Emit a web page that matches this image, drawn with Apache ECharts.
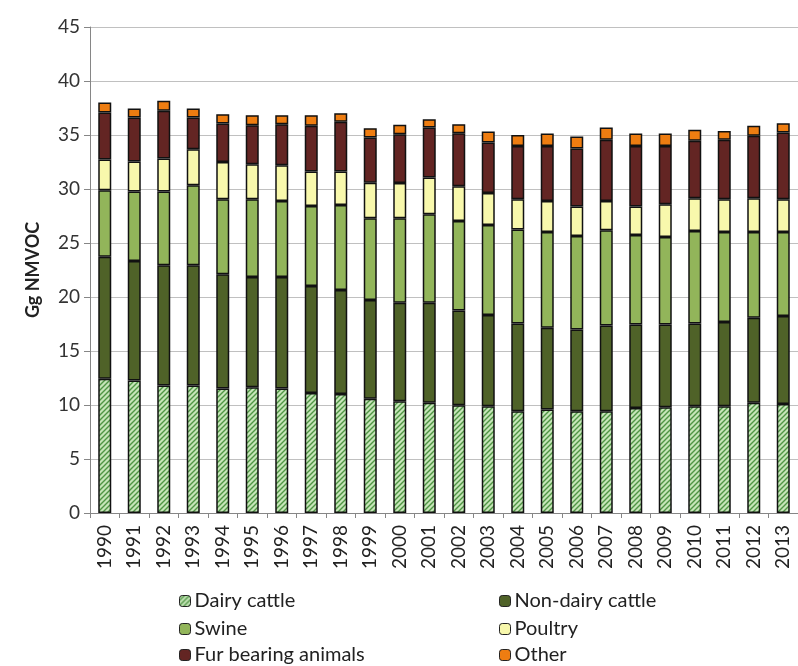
<!DOCTYPE html>
<html>
<head>
<meta charset="utf-8">
<script src="https://cdn.jsdelivr.net/npm/echarts@6/dist/echarts.min.js"></script>
<style>html,body{margin:0;padding:0;background:#fff}#c{width:798px;height:666px}</style>
</head>
<body>
<div id="c"></div>
<script>
const years = ['1990','1991','1992','1993','1994','1995','1996','1997','1998','1999','2000','2001','2002','2003','2004','2005','2006','2007','2008','2009','2010','2011','2012','2013'];
const dairyCattle = [12.42,12.27,11.80,11.80,11.53,11.65,11.53,11.12,11.03,10.57,10.35,10.20,9.98,9.89,9.43,9.58,9.43,9.43,9.73,9.80,9.89,9.89,10.20,10.10];
const nonDairyCattle = [11.31,11.06,11.13,11.13,10.57,10.20,10.32,9.89,9.61,9.15,9.12,9.27,8.78,8.44,8.12,7.57,7.57,7.94,7.73,7.66,7.66,7.79,7.88,8.13];
const swine = [6.15,6.43,6.83,7.42,6.95,7.20,7.04,7.42,7.88,7.57,7.82,8.19,8.28,8.34,8.69,8.87,8.65,8.80,8.28,8.10,8.56,8.34,7.94,7.79];
const poultry = [2.85,2.78,3.06,3.33,3.46,3.24,3.31,3.18,3.09,3.30,3.27,3.40,3.21,2.97,2.81,2.87,2.72,2.72,2.63,3.02,3.03,3.03,3.12,3.03];
const furBearing = [4.35,4.08,4.42,2.94,3.55,3.62,3.80,4.24,4.61,4.18,4.51,4.63,4.92,4.66,4.94,5.10,5.38,5.66,5.62,5.41,5.32,5.50,5.78,6.18];
const other = [0.93,0.83,0.92,0.83,0.87,0.93,0.84,0.99,0.80,0.86,0.87,0.77,0.83,1.02,1.02,1.15,1.11,1.14,1.15,1.15,1.02,0.83,0.93,0.86];
const yTicks = {min:0, max:45, interval:5};

// hatch pattern for dairy cattle
function hatch(){
  const s = 5;
  const cv = document.createElement('canvas');
  cv.width = s; cv.height = s;
  const g = cv.getContext('2d');
  g.fillStyle = '#c6e5b8';
  g.fillRect(0,0,s,s);
  g.strokeStyle = '#4f9544';
  g.lineWidth = 1.4;
  g.beginPath();
  g.moveTo(-1, s+1); g.lineTo(s+1, -1);
  g.moveTo(-1, 1); g.lineTo(1, -1);
  g.moveTo(s-1, s+1); g.lineTo(s+1, s-1);
  g.stroke();
  return {image: cv, repeat: 'repeat'};
}

const font = 'Lato, "Open Sans", sans-serif';
const chart = echarts.init(document.getElementById('c'), null, {renderer:'canvas'});
function mk(name, data, color){
  return {
    name, type:'bar', stack:'all', data, barWidth:13,
    itemStyle:{color, borderColor:'#111', borderWidth:1.5},
    emphasis:{disabled:true}
  };
}
function lg(name, left, top){
  return {left, top, itemWidth:11, itemHeight:11, itemGap:0, padding:0,
    itemStyle:{borderColor:'#222', borderWidth:1},
    textStyle:{fontFamily:font, fontSize:20, color:'#222', padding:[0,0,0,-1]},
    data:[name]};
}
chart.setOption({
  animation:false,
  grid:{left:90, top:27, width:715, height:486},
  legend:[
    lg('Dairy cattle', 179, 591),
    lg('Swine', 179, 619),
    lg('Fur bearing animals', 179, 645),
    lg('Non-dairy cattle', 499, 591),
    lg('Poultry', 499, 619),
    lg('Other', 499, 645)
  ],
  xAxis:{
    type:'category', data:years,
    axisLine:{lineStyle:{color:'#868686', width:1}},
    axisTick:{show:true, length:5, lineStyle:{color:'#868686'}},
    axisLabel:{rotate:90, fontFamily:font, fontSize:19, color:'#222', margin:12, interval:0}
  },
  yAxis:{
    type:'value', min:yTicks.min, max:yTicks.max, interval:yTicks.interval,
    name:'Gg NMVOC', nameLocation:'middle', nameGap:48,
    nameTextStyle:{fontFamily:font, fontSize:18, fontWeight:'bold', color:'#222'},
    axisLine:{show:true, lineStyle:{color:'#868686'}},
    axisTick:{show:true, length:6, lineStyle:{color:'#868686'}},
    axisLabel:{fontFamily:font, fontSize:19, color:'#333', margin:10},
    splitLine:{lineStyle:{color:'#c0c0c0'}}
  },
  series:[
    mk('Dairy cattle', dairyCattle, hatch()),
    mk('Non-dairy cattle', nonDairyCattle, '#4f6228'),
    mk('Swine', swine, '#92b55a'),
    mk('Poultry', poultry, '#f8f8ac'),
    mk('Fur bearing animals', furBearing, '#632523'),
    mk('Other', other, '#ee7d11')
  ]
});
</script>
</body>
</html>
